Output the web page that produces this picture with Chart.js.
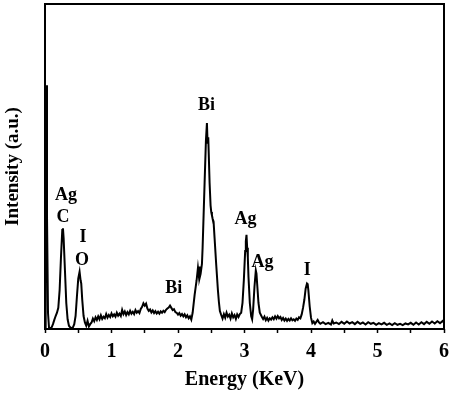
<!DOCTYPE html>
<html>
<head>
<meta charset="utf-8">
<script src="https://cdn.jsdelivr.net/npm/chart.js@4/dist/chart.umd.min.js"></script>
<style>
html,body{margin:0;padding:0;background:#fff;}
#wrap{width:453px;height:394px;}
</style>
</head>
<body>
<div id="wrap"><canvas id="c" width="453" height="394"></canvas></div>
<script>
// Energy (keV)
const energy = [
0.000,0.010,0.018,0.030,0.045,0.060,0.080,0.100,0.120,0.140,0.160,0.180,0.200,0.220,0.240,0.260,0.270,0.280,0.300,0.320,0.340,0.360,0.380,0.400,0.420,0.440,0.460,0.480,0.500,0.520,0.535,0.545,0.560,0.580,0.600,0.620,0.640,0.660,0.680,
0.70,0.72,0.74,0.76,0.78,0.80,0.82,0.84,0.86,0.88,0.90,0.92,0.94,0.96,0.98,1.00,1.02,1.04,1.06,1.08,1.10,1.12,1.14,1.16,1.18,1.20,1.22,1.24,1.26,1.28,1.30,1.32,1.34,1.36,1.38,1.40,1.42,1.44,1.46,1.48,1.50,1.52,1.54,1.56,1.58,1.60,1.62,1.64,1.66,1.68,1.70,1.72,1.74,1.76,1.78,1.80,1.82,1.84,1.86,1.88,1.90,1.92,1.94,1.96,1.98,2.00,2.02,2.04,2.06,2.08,2.10,2.12,2.14,2.16,2.18,2.20,
2.22,2.25,2.28,2.30,2.31,2.32,2.325,2.34,2.36,2.37,2.40,2.42,2.435,2.445,2.455,2.475,2.49,2.50,2.51,2.52,2.535,2.55,2.575,2.60,2.615,2.63,
2.65,2.67,2.69,2.71,2.73,2.75,2.77,2.79,2.81,2.83,2.85,2.87,2.89,2.91,2.93,2.95,2.97,2.99,3.01,3.02,3.03,3.04,3.05,3.06,3.08,3.10,3.115,3.13,3.15,3.17,3.18,3.19,3.21,3.23,3.26,
3.28,3.30,3.32,3.34,3.36,3.38,3.40,3.42,3.44,3.46,3.48,3.50,3.52,3.54,3.56,3.58,3.60,3.62,3.64,3.66,3.68,3.70,3.72,3.74,3.76,3.78,3.80,3.82,3.84,3.86,3.88,3.90,3.92,3.94,3.95,3.96,3.98,4.00,4.02,4.04,4.06,4.08,4.10,4.12,
4.14,4.18,4.22,4.26,4.30,4.32,4.34,4.38,4.42,4.46,4.50,4.54,4.58,4.62,4.66,4.70,4.74,4.78,4.82,4.86,4.90,4.94,4.98,5.02,5.06,5.10,5.14,5.18,5.22,5.26,5.30,5.34,5.38,5.42,5.46,5.50,5.54,5.58,5.62,5.66,5.70,5.74,5.78,5.82,5.86,5.90,5.94,5.98,6.00
];
// Intensity (a.u.)
const intensity = [
0,60,75,35,5,0.5,0.3,0.5,1.5,2.8,4.0,5.0,6.5,12,22,30.5,31,28,18,8,3,1,0.5,0.3,0.5,1.5,4,10,15.5,17.6,15,14,9,4,2,1.0,2.5,0.8,1.5,
2.0,3.2,2.4,3.6,2.8,3.9,3.0,4.2,3.1,3.8,3.3,4.6,3.5,4.3,3.7,4.8,3.9,4.5,3.8,5.0,4.1,4.7,4.0,5.9,4.6,5.4,4.3,5.2,4.5,5.6,4.7,5.3,4.6,5.8,5.0,5.5,4.9,6.2,6.8,7.9,7.2,7.8,6.3,5.6,6.0,5.1,5.7,4.9,5.5,4.8,5.3,4.7,5.4,5.0,5.6,5.2,5.9,6.3,6.6,7.2,6.5,5.8,6.1,5.2,5.0,4.4,4.9,4.1,4.6,3.9,4.5,3.6,4.2,3.3,3.9,2.9,
5,10.5,15,18.8,17,19.2,15.7,17,20,25,45,58,63.4,57,59,45,38,36,35,34,33,28,19.7,12,8.3,5.5,
4.3,3.2,4.6,3.5,5.0,3.8,4.4,3.2,4.8,3.6,4.3,3.1,4.5,3.7,4.6,5,8,15,24,27,29,25,22,16,8,4,3,6,13,18,17,14,8,5,3.8,
3.1,3.8,2.7,3.4,2.6,3.3,2.9,3.6,3.0,3.9,3.2,4.0,3.3,3.7,2.8,3.4,2.6,3.2,2.5,3.1,2.6,3.3,2.7,3.0,2.5,3.2,2.8,3.6,3.3,4.5,6.5,9,12.5,14,13.8,12,7,3.5,1.8,2.3,1.6,2.2,2.8,2.0,
1.6,2.1,1.5,1.9,1.4,2.6,1.7,2.0,1.5,2.2,1.6,2.3,1.7,2.1,1.5,2.2,1.6,2.0,1.4,2.1,1.6,1.9,1.3,1.8,1.4,1.9,1.3,1.7,1.2,1.8,1.3,1.6,1.2,1.7,1.4,1.9,1.3,2.0,1.4,2.1,1.5,2.2,1.6,2.3,1.7,2.4,1.8,2.5,2.0
];
// Peak annotations (text, energy, intensity of label centre)
const peakText = ['Ag','C','I','O','Bi','Bi','Ag','Ag','I'];
const peakE    = [0.315,0.27,0.57,0.555,2.43,1.935,3.015,3.27,3.945];
const peakI    = [41.2,34.5,28.3,21.2,68.9,12.6,33.8,20.6,18.2];
// Axis ticks
const xTickLabels = ['0','1','2','3','4','5','6'];

const serif = "'Liberation Serif','Times New Roman',serif";

const boxPlugin = {
  id:'box',
  afterDraw(chart){
    const {ctx, chartArea:a, scales} = chart;
    ctx.save();
    ctx.strokeStyle = '#000';
    ctx.lineWidth = 2;
    ctx.strokeRect(a.left, a.top, a.right - a.left, a.bottom - a.top);
    ctx.fillStyle = '#000';
    ctx.font = "bold 18px " + serif;
    ctx.textAlign = 'center';
    ctx.textBaseline = 'middle';
    for (let i = 0; i < peakText.length; i++) {
      ctx.fillText(peakText[i], scales.x.getPixelForValue(peakE[i]), scales.y.getPixelForValue(peakI[i]));
    }
    ctx.restore();
  }
};

new Chart(document.getElementById('c'), {
  type:'line',
  data:{
    datasets:[{
      data: energy.map((e,i)=>({x:e, y:intensity[i]})),
      borderColor:'#000',
      borderWidth:2,
      pointRadius:0,
      tension:0,
      fill:false
    }]
  },
  options:{
    responsive:false,
    animation:false,
    devicePixelRatio:1,
    layout:{padding:{top:4,right:9,left:0,bottom:0}},
    plugins:{legend:{display:false},tooltip:{enabled:false}},
    scales:{
      x:{
        type:'linear', min:0, max:6,
        afterFit(s){ s.height = 65; s.paddingLeft = 0; s.paddingRight = 0; },
        border:{display:false},
        grid:{display:true, drawOnChartArea:false, drawTicks:true, tickLength:4, tickColor:'#000', tickWidth:1.5},
        ticks:{stepSize:0.5, autoSkip:false, maxRotation:0, padding:7, color:'#000',
          font:{family:serif, size:20, weight:'bold'},
          callback:(v)=> Number.isInteger(v) ? xTickLabels[v] : ''},
        title:{display:true, text:'Energy (KeV)', color:'#000', padding:{top:0,bottom:2},
          font:{family:serif, size:20, weight:'bold'}}
      },
      y:{
        type:'linear', min:0, max:100,
        afterFit(s){ s.width = 45; s.paddingTop = 0; s.paddingBottom = 0; },
        border:{display:false},
        grid:{display:false},
        ticks:{display:false},
        title:{display:true, text:'Intensity (a.u.)', color:'#000', padding:{top:2,bottom:0},
          font:{family:serif, size:19, weight:'bold'}}
      }
    }
  },
  plugins:[boxPlugin]
});
</script>
</body>
</html>
